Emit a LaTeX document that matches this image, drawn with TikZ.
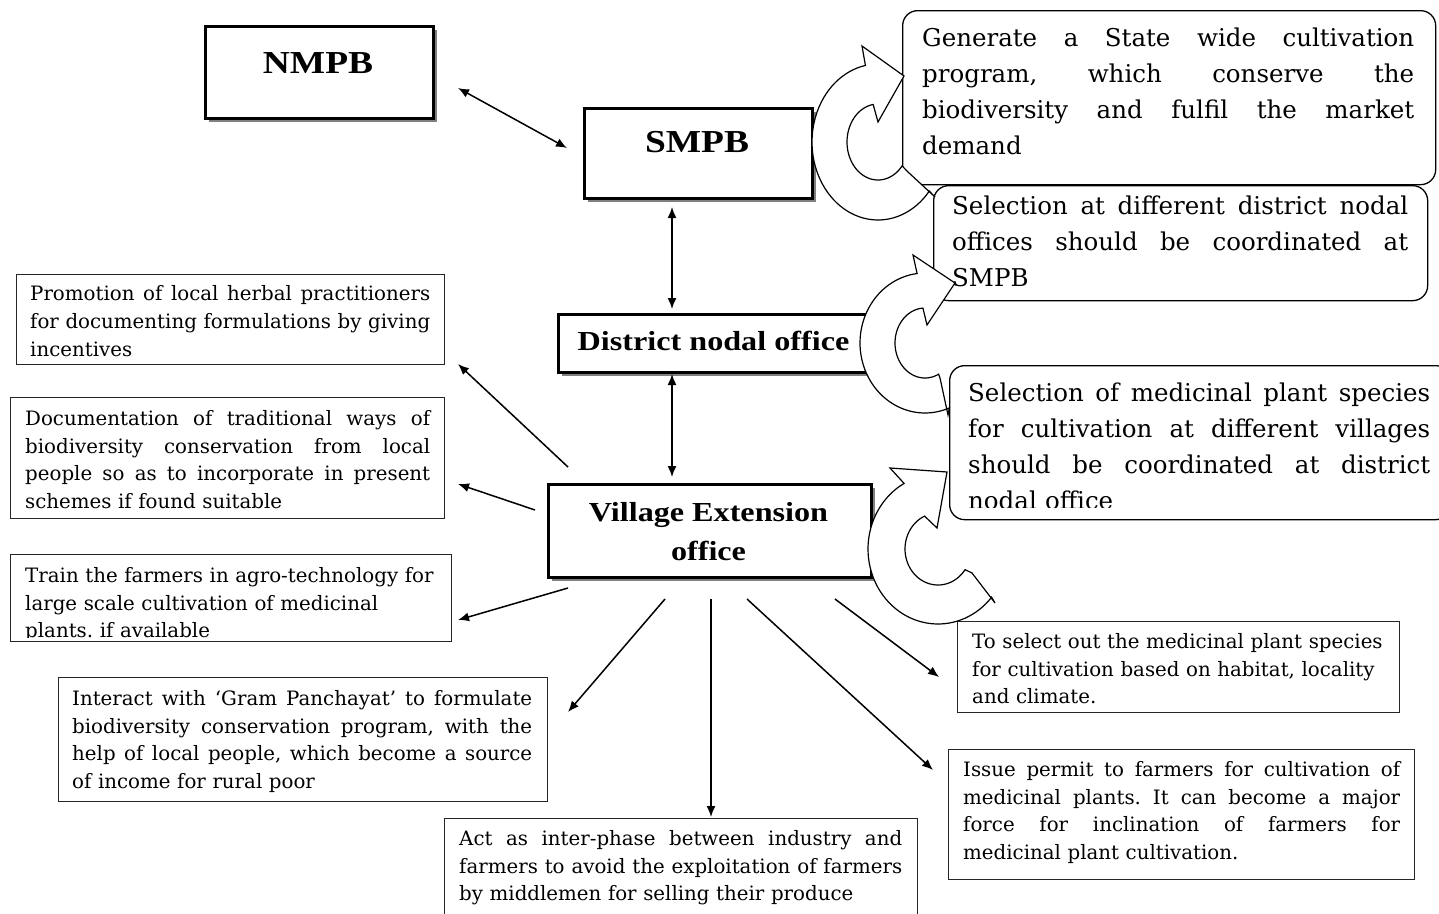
\documentclass[tikz,border=0pt]{standalone}
\usepackage{fontspec}
\usepackage{graphicx}
\setmainfont{DejaVu Serif}
\newfontfamily\hfont{Liberation Serif}
\usetikzlibrary{arrows.meta,shadows}
\setlength\parindent{0pt}
\frenchspacing
\newcommand\J[2]{\leavevmode\hbox to #1pt{\spaceskip=0.3em plus 1fil\relax #2}\\}
\newcommand\hd[1]{\scalebox{1.17}[1]{#1}}
\newcommand\bodyfont{\fontsize{19.8}{27.8}\selectfont\frenchspacing}
\newcommand\rbfont{\fontsize{24.5}{35.9}\selectfont\frenchspacing}
\newcommand\bs{\rule{0pt}{18pt}}
\newcommand\rs{\rule{0pt}{21pt}}
\tikzset{
  x=1pt, y=-1pt,
  frame/.style={draw=black!85, line width=1.3pt, fill=white, inner sep=0pt, anchor=north west},
  hbox/.style={draw=black, line width=2.8pt, fill=white, inner sep=0pt, anchor=north west,
     drop shadow={shadow xshift=4pt, shadow yshift=-4pt, fill=black!50, opacity=1}},
  rbox/.style={draw=black, line width=1.3pt, fill=white, rounded corners=15pt, inner sep=0pt, anchor=north west},
  txt/.style={inner sep=0pt, anchor=north west, align=left, font=\bodyfont},
  rtxt/.style={inner sep=0pt, anchor=north west, align=left, font=\rbfont},
  htxt/.style={inner sep=0pt, font=\hfont\bfseries},
  arr/.style={line width=1.5pt, -{Latex[length=11pt,width=9pt]}},
  darr/.style={line width=1.5pt, {Latex[length=11pt,width=9pt]}-{Latex[length=11pt,width=9pt]}},
  carr/.style={draw=black, fill=white, line width=1.2pt, line join=miter}
}
\begin{document}
\begin{tikzpicture}
\fill[white] (0,0) rectangle (1439,913);
\useasboundingbox (0,0) rectangle (1439,913);

% heading boxes
\node[hbox, minimum width=228pt, minimum height=92pt] (nmpb) at (204,25) {};
\node[hbox, minimum width=228pt, minimum height=90pt] (smpb) at (583,107) {};
\node[hbox, minimum width=313pt, minimum height=58pt] (dno) at (557,313) {};
\node[hbox, minimum width=323pt, minimum height=93pt] (veo) at (547,483) {};

\node[htxt, anchor=base, font=\hfont\bfseries\fontsize{32}{36}\selectfont] (nmpbt) at (318,73.3) {\hd{NMPB}};
\node[htxt, anchor=base, font=\hfont\bfseries\fontsize{32}{36}\selectfont] (smpbt) at (697,152) {\hd{SMPB}};
\node[htxt, anchor=base, font=\hfont\bfseries\fontsize{27.5}{38.3}\selectfont] (dnot) at (713.5,350) {\hd{District nodal office}};
\node[htxt, anchor=north, align=center, font=\hfont\bfseries\fontsize{27.5}{38.3}\selectfont] (veot) at (708.5,497.7) {\rule{0pt}{24pt}\hd{Village Extension}\\\hd{office}};

% plain boxes
\node[frame, minimum width=428pt, minimum height=90pt] (b1) at (16,274) {};
\node[frame, minimum width=434pt, minimum height=121pt] (b2) at (10,397) {};
\node[frame, minimum width=441pt, minimum height=87pt] (b3) at (10,554) {};
\node[frame, minimum width=489pt, minimum height=124pt] (b4) at (58,677) {};
\node[frame, minimum width=473pt, minimum height=96pt] (b5) at (444,818) {};
\node[frame, minimum width=466pt, minimum height=130pt] (b6) at (948,749) {};
\node[frame, minimum width=442pt, minimum height=91pt] (b7) at (957,621) {};

% rounded boxes
\node[rbox, minimum width=533pt, minimum height=174pt] (r1) at (902,10) {};
\node[rbox, minimum width=494pt, minimum height=115pt] (r2) at (933,185) {};
\node[rbox, minimum width=501pt, minimum height=154pt] (r3) at (949,365) {};

% texts
\node[txt, text width=401pt] (t1) at (30,282.7) {\bs\J{400}{Promotion of local herbal practitioners}\J{400}{for documenting formulations by giving}incentives};
\node[txt, text width=406pt] (t2) at (25,407) {\bs\J{405}{Documentation of traditional ways of}\J{405}{biodiversity conservation from local}\J{405}{people so as to incorporate in present}schemes if found suitable};
\begin{scope}
\clip (10,554) rectangle (451,637);
\node[txt, text width=420pt] (t3) at (25,564) {\bs Train the farmers in agro-technology for\\large scale cultivation of medicinal\\plants. if available};
\end{scope}
\node[txt, text width=461pt] (t4) at (72,687) {\bs\J{460}{Interact with ‘Gram Panchayat’ to formulate}\J{460}{biodiversity conservation program, with the}\J{460}{help of local people, which become a source}of income for rural poor};
\node[txt, text width=444pt] (t5) at (459,827) {\bs\J{443}{Act as inter-phase between industry and}\J{443}{farmers to avoid the exploitation of farmers}by middlemen for selling their produce};
\node[txt, text width=438pt] (t6) at (963,758) {\bs\J{437}{Issue permit to farmers for cultivation of}\J{437}{medicinal plants. It can become a major}\J{437}{force for inclination of farmers for}medicinal plant cultivation.};
\node[txt, text width=425pt] (t7) at (972,630) {\bs To select out the medicinal plant species\\for cultivation based on habitat, locality\\and climate.};

% connectors
\coordinate (c1a) at (458,88);  \coordinate (c1b) at (567,148);
\coordinate (c2a) at (672,207); \coordinate (c2b) at (672,309);
\coordinate (c3a) at (672,374); \coordinate (c3b) at (672,477);
\draw[darr] (c1a) -- (c1b);
\draw[darr] (c2a) -- (c2b);
\draw[darr] (c3a) -- (c3b);

\coordinate (s1) at (568,467); \coordinate (e1) at (458,364);
\coordinate (s2) at (535,510); \coordinate (e2) at (458,484);
\coordinate (s3) at (568,588); \coordinate (e3) at (458,620);
\coordinate (s4) at (665,599); \coordinate (e4) at (568,712);
\coordinate (s5) at (711,599); \coordinate (e5) at (711,817);
\coordinate (s6) at (747,599); \coordinate (e6) at (933,770);
\coordinate (s7) at (835,599); \coordinate (e7) at (939,677);
\foreach \i in {1,...,7} { \draw[arr] (s\i) -- (e\i); }

% circular arrows
\path[carr] (935,197) -- plot[domain=39:259,samples=60] ({878+66*cos(\x)},{142+78*sin(\x)})
  -- (862,46) -- (904,76) -- (878,122)
  -- plot[domain=261:39,samples=60] ({878+31*cos(\x)},{142+38*sin(\x)}) -- (908,172) -- cycle;
\path[carr] (948,415) -- plot[domain=68:263,samples=60] ({925+65*cos(\x)},{343+70*sin(\x)})
  -- (913,255) -- (955,283) -- (927,325)
  -- plot[domain=266:63,samples=60] ({925+30*cos(\x)},{343+35*sin(\x)}) -- (940,378) -- cycle;
\path[carr] (995,603) -- plot[domain=40:241,samples=60] ({938+70*cos(\x)},{549+75*sin(\x)})
  -- (890,468) -- (947,472) -- (937,528)
  -- plot[domain=246:35,samples=60] ({938+33*cos(\x)},{549+36*sin(\x)}) -- (972,573) -- cycle;

% rounded box texts
\node[rtxt, text width=493pt] (rt1) at (922,25.7) {\rs\J{492}{Generate a State wide cultivation}\J{492}{program, which conserve the}\J{492}{biodiversity and fulfil the market}demand};
\node[rtxt, text width=457pt] (rt2) at (952,193.7) {\rs\J{456}{Selection at different district nodal}\J{456}{offices should be coordinated at}SMPB};
\begin{scope}
\clip (949,365) rectangle (1439,507);
\node[rtxt, text width=463pt] (rt3) at (968,380.7) {\rs\J{462}{Selection of medicinal plant species}\J{462}{for cultivation at different villages}\J{462}{should be coordinated at district}nodal office};
\end{scope}
\end{tikzpicture}
\end{document}
